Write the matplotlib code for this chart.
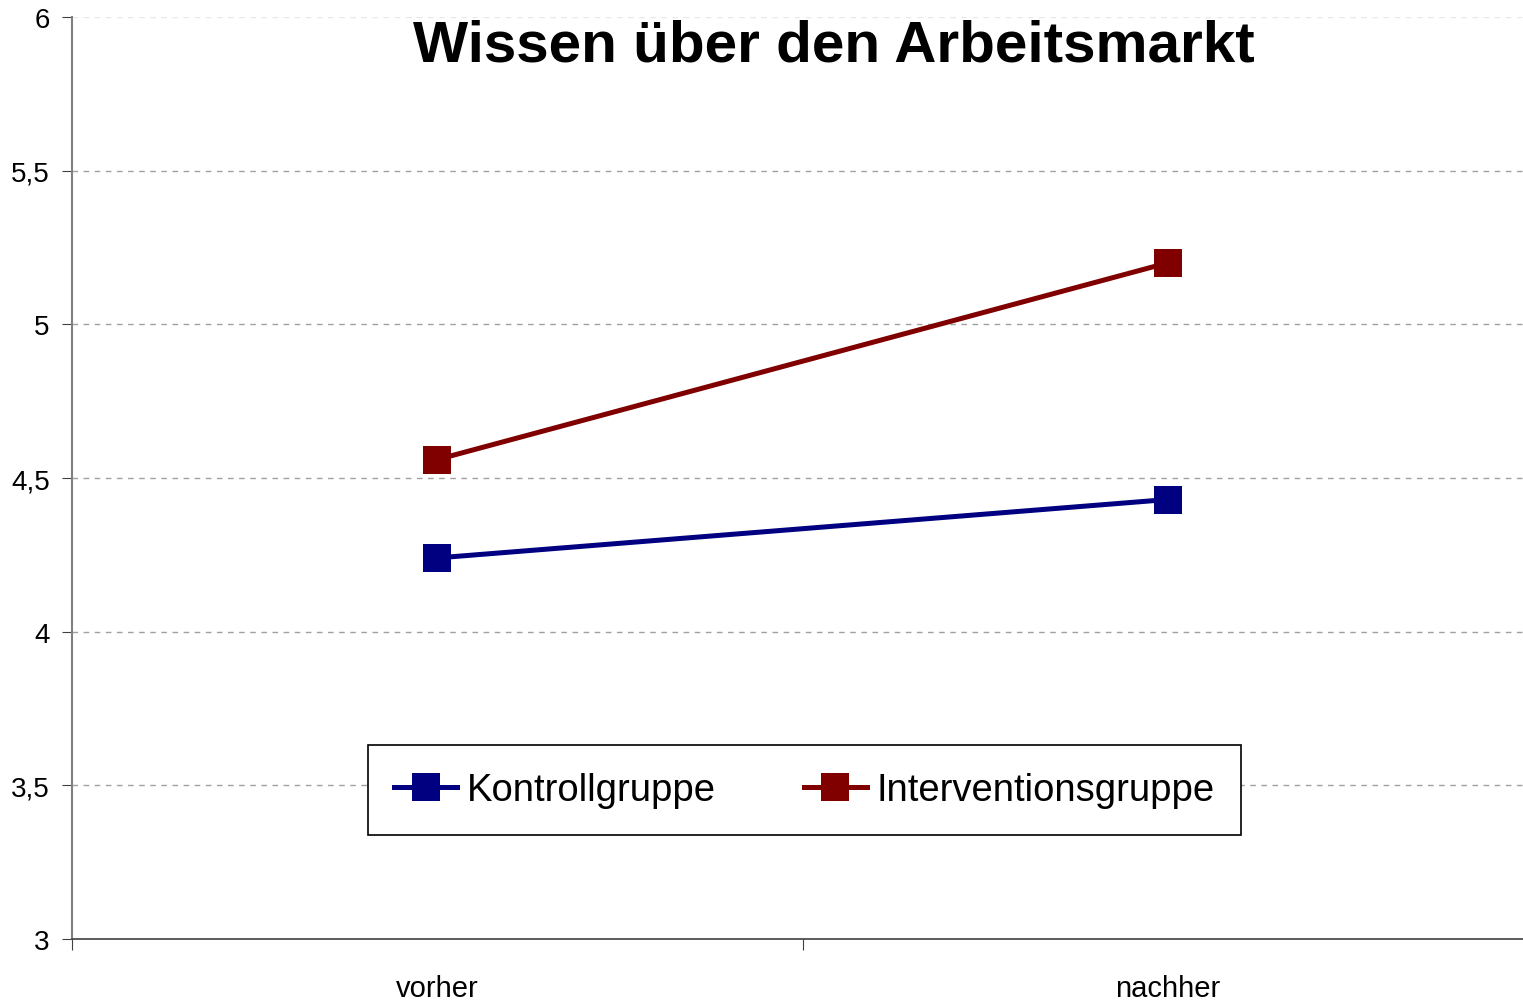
import matplotlib
matplotlib.use("Agg")
import matplotlib.pyplot as plt
from matplotlib.ticker import FuncFormatter

categories = ["vorher", "nachher"]
kontroll = [4.24, 4.43]
intervention = [4.56, 5.20]
yticks = [3, 3.5, 4, 4.5, 5, 5.5, 6]

FAM = ["Liberation Sans", "DejaVu Sans"]

fig = plt.figure(figsize=(15.23, 10.03), dpi=100)
ax = fig.add_axes([72/1523, 63/1003, 1461/1523, (940-18)/1003])

x = [0.5, 1.5]
ax.plot(x, kontroll, color="#000080", lw=3.6, marker="s", ms=19.5, mew=0, label="Kontrollgruppe")
ax.plot(x, intervention, color="#800000", lw=3.6, marker="s", ms=19.5, mew=0, label="Interventionsgruppe")

ax.set_xlim(0, 2)
ax.set_ylim(3, 6)
ax.set_yticks(yticks)
ax.yaxis.set_major_formatter(FuncFormatter(lambda v, p: ("%g" % v).replace(".", ",")))
ax.set_xticks([0, 1, 2])
ax.set_xticklabels([])
ax.set_xticks(x, minor=True)
ax.set_xticklabels(categories, minor=True)
ax.tick_params(axis="x", which="minor", length=0, pad=25, labelsize=21)
ax.tick_params(axis="x", which="major", length=8, color="#404040", direction="out")
ax.tick_params(axis="y", length=7, color="#404040", direction="out", labelsize=20, pad=9)
for lbl in ax.get_yticklabels() + ax.get_xticklabels(minor=True):
    lbl.set_fontfamily(FAM)

for y in yticks[1:-1]:
    ax.axhline(y, color="#a0a0a0", lw=1, ls=(0, (4, 4)), zorder=0)
ax.axhline(6, color="#e8e8e8", lw=1, ls=(0, (4, 4)), zorder=0)

ax.spines["top"].set_visible(False)
ax.spines["right"].set_visible(False)
ax.spines["left"].set_color("#808080")
ax.spines["left"].set_linewidth(1.5)
ax.spines["bottom"].set_color("#404040")
ax.spines["bottom"].set_linewidth(1.2)

fig.text(834/1523, 1 - 46/1003, "Wissen über den Arbeitsmarkt", ha="center", va="center",
         fontsize=42, fontweight="bold", family=FAM)

leg = ax.legend(loc="center", bbox_to_anchor=((804.5 - 72)/1461, (940 - 791)/922),
                ncol=2, frameon=True, fancybox=False, edgecolor="black", framealpha=1,
                prop={"family": FAM, "size": 27.5}, handlelength=1.65, columnspacing=2.3,
                handletextpad=0.25, borderpad=0.7, borderaxespad=0, markerscale=1.0)
leg.get_frame().set_linewidth(1.2)

fig.savefig("out.png", dpi=100)
